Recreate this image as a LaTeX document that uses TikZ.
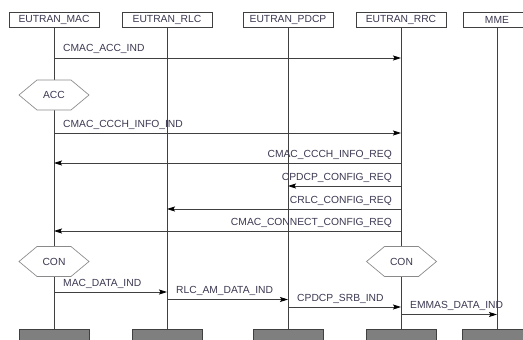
\documentclass[tikz,border=0pt]{standalone}
\usepackage{fontspec}
\setmainfont{Liberation Sans}
\usetikzlibrary{arrows.meta,calc}
\definecolor{txt}{HTML}{3A3850}
\definecolor{ln}{HTML}{404040}
\definecolor{hexc}{HTML}{8A8A8A}
\definecolor{footc}{HTML}{7F7F7F}
\begin{document}
\begin{tikzpicture}[x=1pt,y=-1pt,font=\fontsize{10.3}{12}\selectfont,
  head/.style={draw=ln,line width=0.7pt,minimum width=90pt,minimum height=15pt,inner sep=0pt,text=txt,fill=white},
  foot/.style={draw=ln,line width=0.7pt,fill=footc,minimum width=70pt,minimum height=16pt,inner sep=0pt},
  life/.style={draw=ln,line width=0.8pt},
  msg/.style={draw=ln,line width=0.8pt,-{Stealth[length=8pt,width=5pt,inset=1.5pt,fill=black,color=black]}},
  lbl/.style={text=txt,inner sep=0pt},
  hex/.style={draw=hexc,fill=white,line width=0.7pt}]
\useasboundingbox (0,0) rectangle (523,340);
% headers
\node[head] (h1) at (54,19.5) {EUTRAN\_MAC};
\node[head] (h2) at (167,19.5) {EUTRAN\_RLC};
\node[head] (h3) at (288,19.5) {EUTRAN\_PDCP};
\node[head] (h4) at (401,19.5) {EUTRAN\_RRC};
\node[head,minimum width=68pt] (h5) at (497,19.5) {MME};
% footers
\node[foot,anchor=north] (b1) at (54,329) {};
\node[foot,anchor=north] (b2) at (167,329) {};
\node[foot,anchor=north] (b3) at (288,329) {};
\node[foot,anchor=north] (b4) at (401,329) {};
\node[foot,anchor=north] (b5) at (497,329) {};
% lifelines
\foreach \i in {1,...,5} \draw[life] (h\i.south) -- (b\i.north);
% message levels
\coordinate (y1) at (0,58);
\coordinate (y2) at (0,133);
\coordinate (y3) at (0,163);
\coordinate (y4) at (0,186);
\coordinate (y5) at (0,209);
\coordinate (y6) at (0,231);
\coordinate (y7) at (0,292);
\coordinate (y8) at (0,299.5);
\coordinate (y9) at (0,307);
\coordinate (y10) at (0,314.5);
% hexagons
\coordinate (accc) at (54,95);
\coordinate (con1c) at (54,261.5);
\coordinate (con2c) at (401.5,261.5);
\foreach \c in {accc,con1c,con2c}
  \draw[hex] ($(\c)+(-35,0)$) -- ++(18,-15) -- ++(34,0) -- ++(18,15) -- ++(-18,15) -- ++(-34,0) -- cycle;
\node[lbl] (acc) at (accc) {ACC};
\node[lbl] (con1) at (con1c) {CON};
\node[lbl] (con2) at (con2c) {CON};
% messages
\draw[msg] (h1 |- y1) -- (h4 |- y1);
\node[lbl,anchor=base west] (l1) at ($(h1 |- y1)+(9,-6)$) {CMAC\_ACC\_IND};
\draw[msg] (h1 |- y2) -- (h4 |- y2);
\node[lbl,anchor=base west] (l2) at ($(h1 |- y2)+(9,-6)$) {CMAC\_CCCH\_INFO\_IND};
\draw[msg] (h4 |- y3) -- (h1 |- y3);
\node[lbl,anchor=base east] (l3) at ($(h4 |- y3)+(-9,-6)$) {CMAC\_CCCH\_INFO\_REQ};
\draw[msg] (h4 |- y4) -- (h3 |- y4);
\node[lbl,anchor=base east] (l4) at ($(h4 |- y4)+(-9,-6)$) {CPDCP\_CONFIG\_REQ};
\draw[msg] (h4 |- y5) -- (h2 |- y5);
\node[lbl,anchor=base east] (l5) at ($(h4 |- y5)+(-9,-6)$) {CRLC\_CONFIG\_REQ};
\draw[msg] (h4 |- y6) -- (h1 |- y6);
\node[lbl,anchor=base east] (l6) at ($(h4 |- y6)+(-9,-6)$) {CMAC\_CONNECT\_CONFIG\_REQ};
\draw[msg] (h1 |- y7) -- (h2 |- y7);
\node[lbl,anchor=base west] (l7) at ($(h1 |- y7)+(9,-6)$) {MAC\_DATA\_IND};
\draw[msg] (h2 |- y8) -- (h3 |- y8);
\node[lbl,anchor=base west] (l8) at ($(h2 |- y8)+(9,-6)$) {RLC\_AM\_DATA\_IND};
\draw[msg] (h3 |- y9) -- (h4 |- y9);
\node[lbl,anchor=base west] (l9) at ($(h3 |- y9)+(9,-6)$) {CPDCP\_SRB\_IND};
\draw[msg] (h4 |- y10) -- (h5 |- y10);
\node[lbl,anchor=base west] (l10) at ($(h4 |- y10)+(9,-6)$) {EMMAS\_DATA\_IND};
\end{tikzpicture}
\end{document}
